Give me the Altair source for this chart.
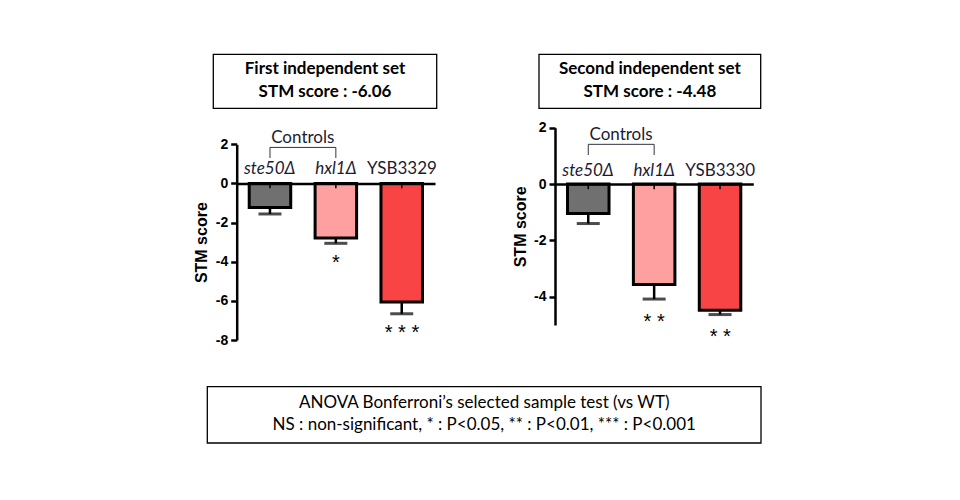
import altair as alt
import pandas as pd

# ---------------- data ----------------
left_strains = ["ste50Δ", "hxl1Δ", "YSB3329"]
left_scores = [-1.23, -2.79, -6.06]
left_sem = [0.33, 0.27, 0.60]
left_stars = ["", "*", "* * *"]

right_strains = ["ste50Δ", "hxl1Δ", "YSB3330"]
right_scores = [-1.04, -3.56, -4.48]
right_sem = [0.36, 0.52, 0.15]
right_stars = ["", "* *", "* *"]

bar_colors = ["#707070", "#FFA0A0", "#F84444"]
italic_flags = [True, True, False]

left_ticks = [-8, -6, -4, -2, 0, 2]
right_ticks = [-4, -2, 0, 2]
left_domain = [-8, 2]
right_domain = [-5, 2]

left_title = ["First independent set", "STM score : -6.06"]
right_title = ["Second independent set", "STM score : -4.48"]
legend_lines = [
    "ANOVA Bonferroni’s selected sample test (vs WT)",
    "NS : non-significant, * : P<0.05, ** : P<0.01, *** : P<0.001",
]
controls_label = "Controls"
y_title = "STM score"

# ---------------- styling ----------------
TXT = "#1b1b33"
SANS = "Lato"
ARIAL = "Liberation Sans"


def panel(strains, scores, sem, stars, domain, ticks, x_range, y_range,
          cat_dy, star_dy, bracket, inner_tick):
    df = pd.DataFrame({"strain": strains, "score": scores, "sem": sem,
                       "star": stars, "color": bar_colors, "italic": italic_flags})
    zero_px = y_range[0] - (0 - domain[0]) / (domain[1] - domain[0]) * (y_range[0] - y_range[1])
    base = alt.Chart(df).transform_calculate(lo="datum.score - datum.sem")

    def xs():
        return alt.Scale(domain=strains, range=x_range, paddingInner=0.37, paddingOuter=0.19)

    def ys():
        return alt.Scale(domain=domain, range=y_range, nice=False, zero=True)

    x_axis = alt.Axis(orient="top", offset=-zero_px, labels=False, ticks=False,
                      title=None, grid=False, domainColor="black", domainWidth=2.5, zindex=1)
    y_axis = alt.Axis(orient="left", offset=-x_range[0], values=ticks,
                      labelExpr="'' + datum.value", labelFont=ARIAL, labelFontWeight="bold",
                      labelFontSize=14, labelColor="black", labelPadding=3,
                      tickColor="black", tickWidth=2.5, tickSize=6,
                      domainColor="black", domainWidth=2.5, grid=False,
                      title=y_title, titleFont=ARIAL, titleFontSize=16, titleFontWeight="bold",
                      titleColor="black", titleX=-35, titleBaseline="middle", zindex=1)

    def X(field="strain:N", ax=None):
        return alt.X(field, scale=xs(), axis=ax)

    def Y(field=None, datum=None, ax=None):
        if field is not None:
            return alt.Y(field, scale=ys(), axis=ax)
        return alt.Y(datum=datum, scale=ys(), axis=ax)

    bars = base.mark_bar(stroke="black", strokeWidth=3).encode(
        x=X(ax=x_axis), y=Y("score:Q", ax=y_axis),
        fill=alt.Fill("color:N", scale=None))
    err = base.mark_rule(color="black", strokeWidth=2.5).encode(
        x=X(), y=Y("score:Q"), y2="lo:Q")
    cap = base.mark_tick(color="black", thickness=3, size=23).encode(
        x=X(), y=Y("lo:Q"))
    itick = base.mark_rule(color="black", strokeWidth=1.5).encode(
        x=X(), y=Y(datum=0), y2=alt.Y2(datum=-inner_tick))
    stars_t = base.mark_text(font=ARIAL, fontSize=20, color="black", baseline="alphabetic",
                             dy=star_dy).encode(x=X(), y=Y("lo:Q"), text="star:N")
    lab_it = base.transform_filter("datum.italic").mark_text(
        font=SANS, fontSize=17, fontStyle="italic", color=TXT, baseline="alphabetic",
        dy=cat_dy).encode(x=X(), y=Y(datum=0), text="strain:N")
    lab_n = base.transform_filter("!datum.italic").mark_text(
        font=SANS, fontSize=17, color=TXT, baseline="alphabetic",
        dy=cat_dy).encode(x=X(), y=Y(datum=0), text="strain:N")

    top, bot = bracket
    br_v = alt.Chart(pd.DataFrame({"strain": strains[:2]})).mark_rule(
        color="#333344", strokeWidth=1).encode(
        x=X(), y=Y(datum=top), y2=alt.Y2(datum=bot))
    br_h = alt.Chart(pd.DataFrame({"a": [strains[0]], "b": [strains[1]]})).mark_rule(
        color="#333344", strokeWidth=1).encode(
        x=X("a:N"), x2="b:N", y=Y(datum=top))
    ctl = alt.Chart(pd.DataFrame({"a": [strains[0]], "t": [controls_label]})).mark_text(
        font=SANS, fontSize=17, color=TXT, baseline="alphabetic", dy=-4, dx=33).encode(
        x=X("a:N"), y=Y(datum=top), text="t:N")

    return [bars, itick, err, cap, stars_t, lab_it, lab_n, br_v, br_h, ctl]


left = panel(left_strains, left_scores, left_sem, left_stars, left_domain, left_ticks,
             [228.7, 427.0], [332.0, 136.3], -9, 25.5, (1.84, 1.30), 0.25)
right = panel(right_strains, right_scores, right_sem, right_stars, right_domain, right_ticks,
              [547.0, 745.3], [317.0, 119.7], -8, 28.8, (1.41, 1.03), 0.18)

one = pd.DataFrame({"k": [0]})


def box(x0, x1, y0, y1):
    return alt.Chart(one).mark_rect(fill="white", stroke="black", strokeWidth=1.3).encode(
        x=alt.value(x0), x2=alt.value(x1), y=alt.value(y0), y2=alt.value(y1))


def line(txt, cx, cy, bold=False):
    return alt.Chart(pd.DataFrame({"t": [txt]})).mark_text(
        font=SANS, fontSize=17, fontWeight="bold" if bold else "normal", color="black",
        baseline="middle", align="center").encode(
        text="t:N", x=alt.value(cx), y=alt.value(cy))


decor = [
    box(205.3, 428.7, 46.3, 100.3),
    line(left_title[0], 317.0, 61.3, True),
    line(left_title[1], 317.0, 83.7, True),
    box(531.0, 752.7, 46.3, 100.3),
    line(right_title[0], 641.9, 61.3, True),
    line(right_title[1], 641.9, 83.7, True),
    box(199.3, 753.0, 378.7, 435.0),
    line(legend_lines[0], 476.2, 395.0),
    line(legend_lines[1], 476.2, 417.0),
]

chart = alt.layer(*left, *right, *decor).resolve_scale(
    x="independent", y="independent").resolve_axis(
    x="independent", y="independent").properties(
    width=944, height=484, autosize=alt.AutoSizeParams(type="none"), padding=0,
    background="white").configure_view(stroke=None)

chart.save("out.html", embed_options={"renderer": "svg", "actions": False})
